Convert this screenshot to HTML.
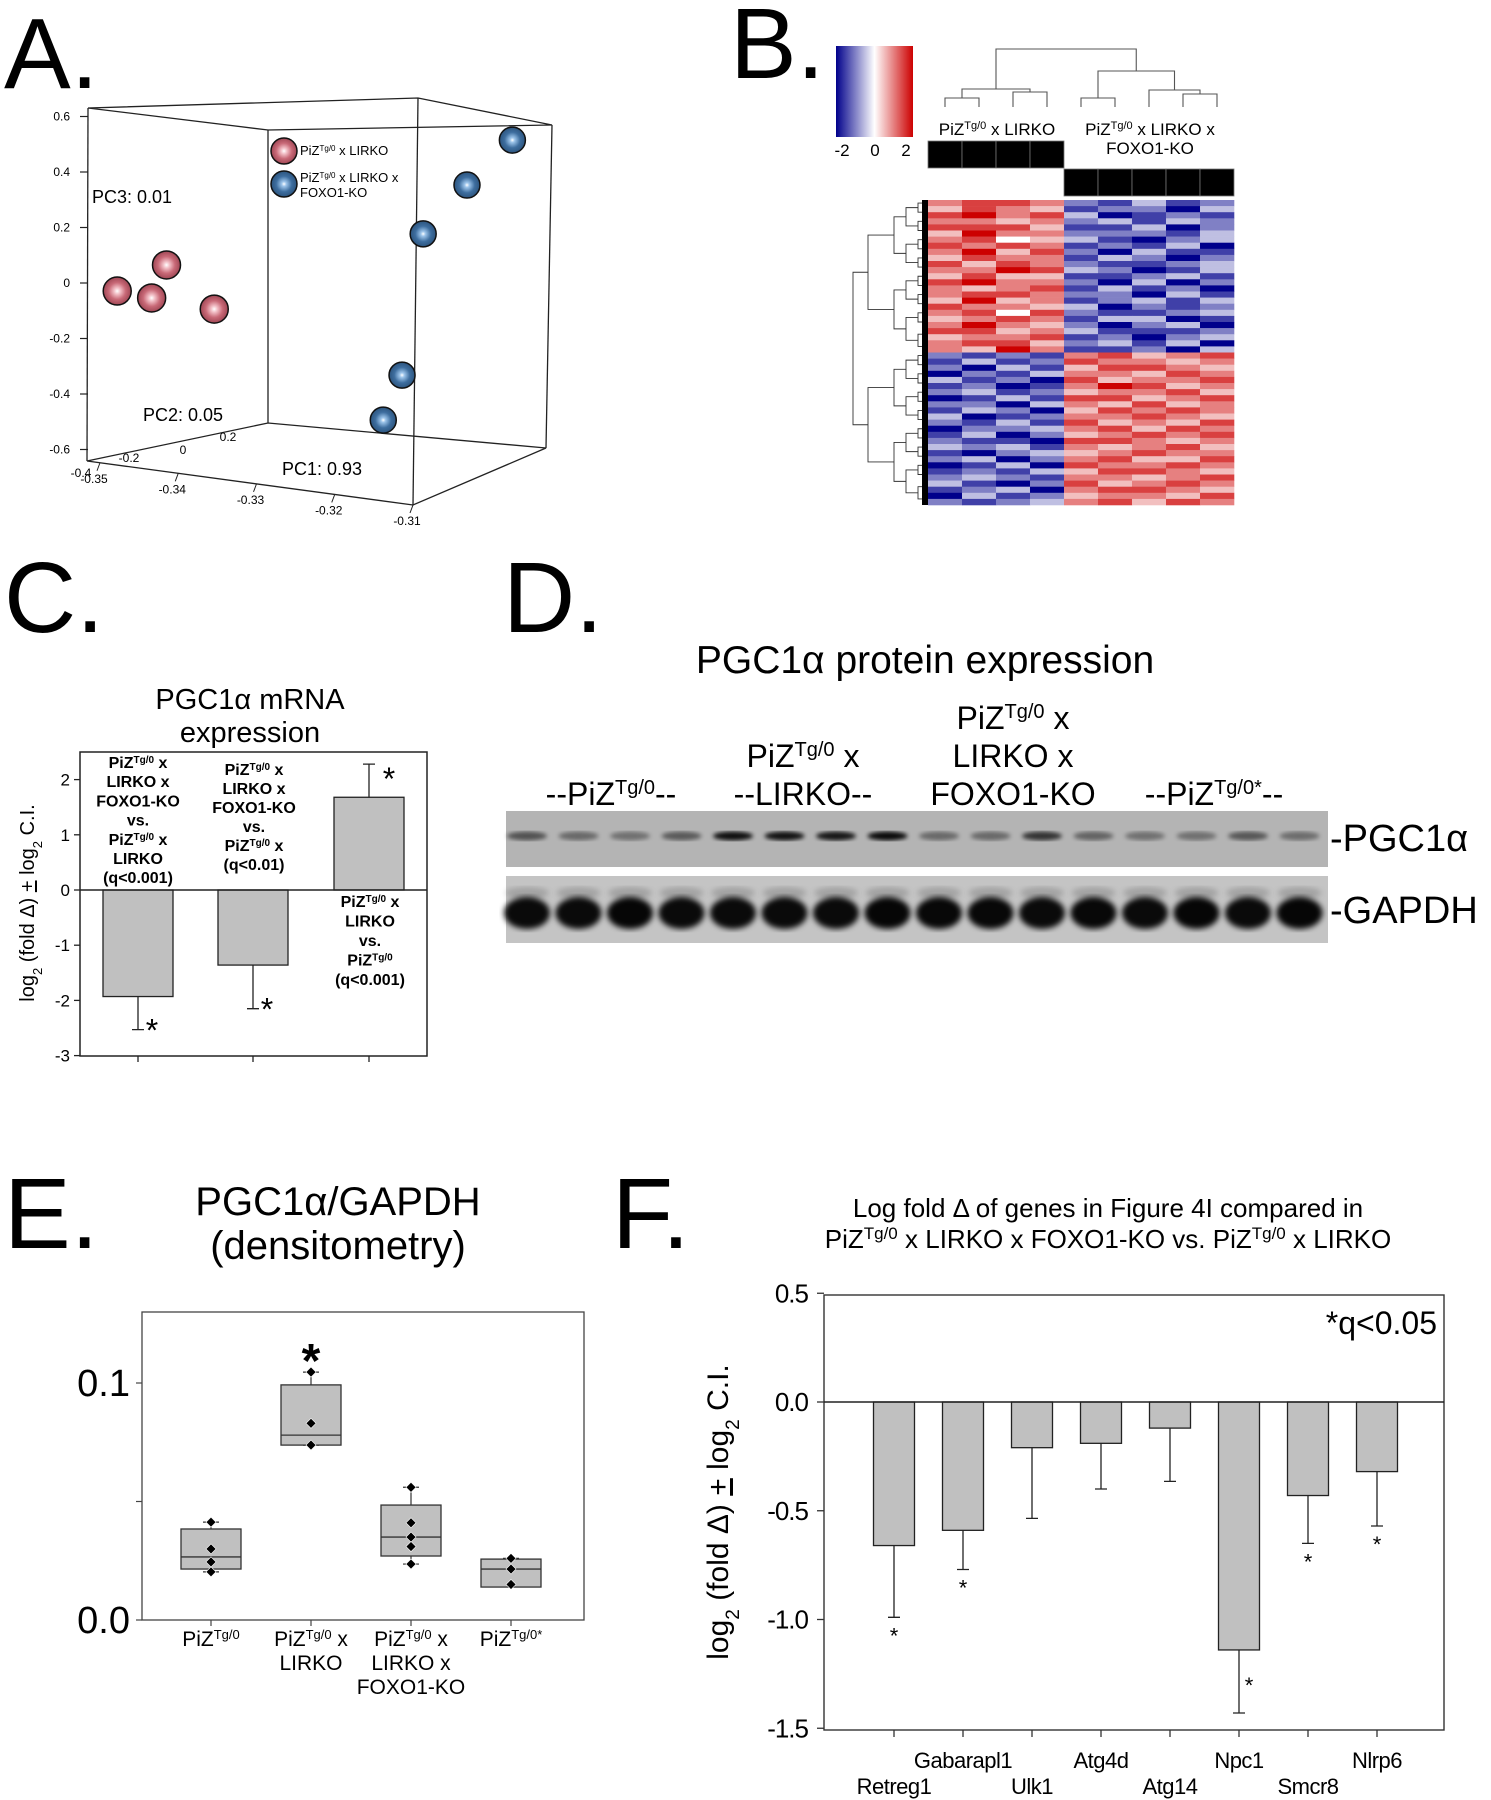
<!DOCTYPE html>
<html><head><meta charset="utf-8"><style>
html,body{margin:0;padding:0;background:#fff}
svg{display:block}
text{font-family:"Liberation Sans",Arial,sans-serif;fill:#000}
</style></head><body>
<svg id="fig" width="1491" height="1800" viewBox="0 0 1491 1800" xmlns="http://www.w3.org/2000/svg">
<defs>
<radialGradient id="gRed" cx="0.5" cy="0.5" r="0.6"><stop offset="0" stop-color="#fff"/><stop offset="0.18" stop-color="#f3c2c9"/><stop offset="0.5" stop-color="#c96a78"/><stop offset="1" stop-color="#8a3442"/></radialGradient>
<radialGradient id="gBlue" cx="0.5" cy="0.5" r="0.6"><stop offset="0" stop-color="#fff"/><stop offset="0.15" stop-color="#9cc4ea"/><stop offset="0.5" stop-color="#3e6e9f"/><stop offset="1" stop-color="#23476d"/></radialGradient>
<linearGradient id="cbar" x1="0" x2="1" y1="0" y2="0"><stop offset="0" stop-color="#00008b"/><stop offset="0.5" stop-color="#ffffff"/><stop offset="1" stop-color="#cc0000"/></linearGradient>
<filter id="blur1"><feGaussianBlur stdDeviation="2.2"/></filter>
<filter id="blur2"><feGaussianBlur stdDeviation="3"/></filter>
</defs>

<!-- Panel letters -->
<text x="4" y="88" font-size="100">A.</text>
<text x="730" y="78" font-size="100">B.</text>
<text x="4" y="632" font-size="100">C.</text>
<text x="503" y="632" font-size="100">D.</text>
<text x="4" y="1248" font-size="100">E.</text>
<text x="612" y="1248" font-size="100">F.</text>

<!-- Panel A -->
<g id="pA" stroke="#222" stroke-width="1.3" fill="none">
<polyline points="88,108 418,98 552,125 268,130 88,108"/>
<line x1="88" y1="108" x2="87" y2="461"/>
<line x1="268" y1="130" x2="268" y2="423"/>
<line x1="418" y1="98" x2="413" y2="505"/>
<line x1="552" y1="125" x2="546" y2="448"/>
<polyline points="87,461 268,423 546,448 413,505 87,461"/>
</g>
<g id="pAtext" font-size="12">
<text x="300" y="155" font-size="13">PiZ<tspan font-size="8" baseline-shift="super">Tg/0</tspan> x LIRKO</text>
<text x="300" y="182" font-size="13">PiZ<tspan font-size="8" baseline-shift="super">Tg/0</tspan> x LIRKO x</text>
<text x="300" y="197" font-size="13">FOXO1-KO</text>
<text x="92" y="203" font-size="18">PC3: 0.01</text>
<text x="143" y="421" font-size="18">PC2: 0.05</text>
<text x="282" y="475" font-size="18">PC1: 0.93</text>
</g>

<!-- Panel B -->
<g id="pB">
<rect x="836" y="46" width="77" height="91" fill="url(#cbar)"/>
<text x="842" y="156" font-size="17" text-anchor="middle">-2</text>
<text x="875" y="156" font-size="17" text-anchor="middle">0</text>
<text x="906" y="156" font-size="17" text-anchor="middle">2</text>
<text x="997" y="135" font-size="17" text-anchor="middle">PiZ<tspan font-size="11" baseline-shift="super">Tg/0</tspan> x LIRKO</text>
<text x="1150" y="135" font-size="17" text-anchor="middle">PiZ<tspan font-size="11" baseline-shift="super">Tg/0</tspan> x LIRKO x</text>
<text x="1150" y="154" font-size="17" text-anchor="middle">FOXO1-KO</text>
</g>

<!-- Panel C -->
<g id="pC">
<text x="250" y="709" font-size="29" text-anchor="middle">PGC1α mRNA</text>
<text x="250" y="742" font-size="29" text-anchor="middle">expression</text>
<text transform="translate(34,903) rotate(-90)" font-size="20" text-anchor="middle">log<tspan font-size="13" baseline-shift="sub">2</tspan> (fold Δ) <tspan text-decoration="underline">+</tspan> log<tspan font-size="13" baseline-shift="sub">2</tspan> C.I.</text>
</g>

<!-- Panel D -->
<g id="pD">
<text x="925" y="673" font-size="39" text-anchor="middle">PGC1α protein expression</text>
<text x="611" y="805" font-size="32" text-anchor="middle">--PiZ<tspan font-size="20" baseline-shift="super">Tg/0</tspan>--</text>
<text x="803" y="767" font-size="32" text-anchor="middle">PiZ<tspan font-size="20" baseline-shift="super">Tg/0</tspan> x</text>
<text x="803" y="805" font-size="32" text-anchor="middle">--LIRKO--</text>
<text x="1013" y="729" font-size="32" text-anchor="middle">PiZ<tspan font-size="20" baseline-shift="super">Tg/0</tspan> x</text>
<text x="1013" y="767" font-size="32" text-anchor="middle">LIRKO x</text>
<text x="1013" y="805" font-size="32" text-anchor="middle">FOXO1-KO</text>
<text x="1214" y="805" font-size="32" text-anchor="middle">--PiZ<tspan font-size="20" baseline-shift="super">Tg/0*</tspan>--</text>
<rect x="506" y="811" width="822" height="56" fill="#b4b4b4"/>
<rect x="506" y="876" width="822" height="67" fill="#c4c4c4"/>
<text x="1330" y="851" font-size="38">-PGC1α</text>
<text x="1330" y="923" font-size="38">-GAPDH</text>
</g>

<!-- Panel E -->
<g id="pE">
<text x="338" y="1215" font-size="40" text-anchor="middle">PGC1α/GAPDH</text>
<text x="338" y="1259" font-size="40" text-anchor="middle">(densitometry)</text>
</g>

<!-- Panel F -->
<g id="pF">
<text x="1108" y="1217" font-size="26" text-anchor="middle">Log fold Δ  of genes in Figure 4I compared in</text>
<text x="1108" y="1248" font-size="26" text-anchor="middle">PiZ<tspan font-size="17" baseline-shift="super">Tg/0</tspan> x LIRKO x FOXO1-KO vs. PiZ<tspan font-size="17" baseline-shift="super">Tg/0</tspan> x LIRKO</text>
<text x="1437" y="1334" font-size="32" text-anchor="end">*q&lt;0.05</text>
<text transform="translate(728,1512) rotate(-90)" font-size="30" text-anchor="middle">log<tspan font-size="19" baseline-shift="sub">2</tspan> (fold Δ) <tspan text-decoration="underline">+</tspan> log<tspan font-size="19" baseline-shift="sub">2</tspan> C.I.</text>
</g>
</svg>

<script>
// ---------- Panel A data ----------
const pcaRedPC1 = [-0.3478, -0.3434, -0.3415, -0.3354];
const pcaRedPC3 = [-0.029, -0.054, 0.065, -0.094];
const pcaBluePC1 = [-0.2973, -0.3031, -0.3087, -0.3114, -0.3138];
const pcaBluePC3 = [0.515, 0.353, 0.177, -0.332, -0.494];
const pcaYTicks = ["0.6","0.4","0.2","0","-0.2","-0.4","-0.6"];
const pcaYTickVals = [0.6,0.4,0.2,0,-0.2,-0.4,-0.6];
const pcaXTicks = ["-0.35","-0.34","-0.33","-0.32","-0.31"];
const pcaXTickVals = [-0.35,-0.34,-0.33,-0.32,-0.31];

// ---------- Panel B data (digit 0..8 => -2..2) ----------
const heatRows = [
"677621312","576512203","786730121","665623132","777511302","586622213","674531023","767612130","685720311","576613202",
"757621123","668732013","575511231","786620302","656713120","677622031","585612313","766530212","674721123","567613301",
"686520230","775631112","566712023","677523130","658611203",
"212167567","131276656","203157765","021366576","312075667","120168756","231256675","013177567","220365756","132057676",
"301266765","213175657","022367576","130256767","211077656","323165675","102356766","230267557","013076676","121357765",
"232166567","310275676","123067765","031256657","212367576"];
const heatGroups = ["lirko","lirko","lirko","lirko","foxo1","foxo1","foxo1","foxo1","foxo1"];

// ---------- Panel C data ----------
const mrnaValues = [-1.93, -1.36, 1.68];
const mrnaErr = [-2.53, -2.15, 2.28];
const mrnaYTicks = [2,1,0,-1,-2,-3];
const mrnaAnnot1 = ["PiZ|x","LIRKO x","FOXO1-KO","vs.","PiZ|x","LIRKO","(q<0.001)"];
const mrnaAnnot2 = ["PiZ|x","LIRKO x","FOXO1-KO","vs.","PiZ|x","(q<0.01)"];
const mrnaAnnot3 = ["PiZ|x","LIRKO","vs.","PiZ|","(q<0.001)"];

// ---------- Panel D data ----------
const pgcBand = [0.55,0.42,0.38,0.5, 0.92,0.9,0.88,0.95, 0.42,0.42,0.72,0.45, 0.38,0.38,0.52,0.4];
const gapdhBand = [0.95,0.95,0.97,0.95, 0.95,0.95,0.95,0.97, 0.96,0.96,0.95,0.96, 0.95,0.97,0.95,0.97];

// ---------- Panel E data ----------
const boxCats = ["PiZ", "PiZxLIRKO", "PiZxLIRKOxFOXO1", "PiZstar"];
const boxQ1 = [0.0215, 0.0738, 0.027, 0.0139];
const boxMed = [0.0266, 0.078, 0.035, 0.0215];
const boxQ3 = [0.0384, 0.0992, 0.0485, 0.0257];
const boxPts = [[0.0413,0.030,0.0245,0.0203],[0.1046,0.083,0.0738],[0.056,0.041,0.035,0.031,0.0236],[0.026,0.0215,0.015]];
const boxYTicks = ["0.0","0.1"];
const boxYTickVals = [0,0.1];

// ---------- Panel F data ----------
const geneNames = ["Retreg1","Gabarapl1","Ulk1","Atg4d","Atg14","Npc1","Smcr8","Nlrp6"];
const geneValues = [-0.66,-0.59,-0.21,-0.19,-0.12,-1.14,-0.43,-0.32];
const geneErrLow = [-0.99,-0.77,-0.535,-0.40,-0.365,-1.43,-0.65,-0.57];
const geneSig = [true,true,false,false,false,true,true,true];
const geneYTicks = ["0.5","0.0","-0.5","-1.0","-1.5"];
const geneYTickVals = [0.5,0,-0.5,-1.0,-1.5];

const NS="http://www.w3.org/2000/svg";
function mk(tag, attrs, parent){const e=document.createElementNS(NS,tag);for(const k in attrs)e.setAttribute(k,attrs[k]);(parent||document.getElementById('fig')).appendChild(e);return e;}
function piz(t, text, sup, rest, supSize){
  t.appendChild(document.createTextNode(text));
  const s=document.createElementNS(NS,'tspan');s.setAttribute('font-size',supSize);s.setAttribute('baseline-shift','super');s.textContent=sup;t.appendChild(s);
  if(rest)t.appendChild(document.createTextNode(rest));
}

// ===== Panel A =====
(function(){
  const g=document.getElementById('pAtext');
  const ax=v=>100+(v+0.35)*7825;
  const ay=v=>283-v*277.5;
  pcaYTickVals.forEach((v,i)=>{
    const l=mk('line',{x1:80,x2:88,y1:ay(v),y2:ay(v),stroke:'#222','stroke-width':1.2},g);
    
    
    const t=mk('text',{x:70,y:ay(v)+4,'text-anchor':'end','font-size':12},g);
    t.textContent=pcaYTicks[i];
    
    
  });
  pcaXTickVals.forEach((v,i)=>{
    const x=ax(v), y=461+(x-87)*0.135;
    const l=mk('line',{x1:x,x2:x-3,y1:y,y2:y+8,stroke:'#222','stroke-width':1},g);
    
    
    const t=mk('text',{x:x-6,y:y+20,'text-anchor':'middle','font-size':12},g);
    t.textContent=pcaXTicks[i];
    
    
  });
  [["-0.4",81,477],["-0.2",129,462],["0",183,454],["0.2",228,441]].forEach(d=>{
    const t=mk('text',{x:d[1],y:d[2],'text-anchor':'middle','font-size':12},g);
    t.textContent=d[0];
    
    
  });
  function dot(x,y,r,grad,name){
    const c=mk('circle',{cx:x,cy:y,r:r,fill:'url(#'+grad+')',stroke:'#111','stroke-width':1.5},g);
    
    
  }
  pcaRedPC1.forEach((v,i)=>dot(ax(v),ay(pcaRedPC3[i]),14,'gRed','pca-point-lirko'));
  pcaBluePC1.forEach((v,i)=>dot(ax(v),ay(pcaBluePC3[i]),13,'gBlue','pca-point-foxo1'));
  dot(284,151,13,'gRed','legend-marker-lirko');
  dot(284,184,13,'gBlue','legend-marker-foxo1');
})();

// ===== Panel B =====
(function(){
  const g=document.getElementById('pB');
  const x0=928, colW=(1234-928)/9, y0=200, rowH=(505-200)/heatRows.length;
  function col(d){const t=(d-4)/4;
    if(t<0){const a=-t;return `rgb(${Math.round(255*(1-a))},${Math.round(255*(1-a))},${Math.round(255-116*a)})`;}
    const a=t;return `rgb(${Math.round(255-51*a)},${Math.round(255*(1-a))},${Math.round(255*(1-a))})`;}
  heatRows.forEach((row,r)=>{
    for(let c=0;c<9;c++){
      const d=+row[c];
      const cell=mk('rect',{x:x0+c*colW,y:y0+r*rowH,width:colW+0.3,height:rowH+0.3,fill:col(d)},g);
      
      
    }
  });
  // group bars
  heatGroups.forEach((grp,c)=>{
    const y=grp==='lirko'?141:169;
    const b=mk('rect',{x:x0+c*colW,y:y,width:colW,height:27,fill:'#000',stroke:'#777','stroke-width':0.8},g);
    
    
  });
  // column dendrogram
  const cx=i=>x0+(i+0.5)*colW;
  const dp=[];
  function U(xa,xb,ya,yb,yt){dp.push(`M${xa},${ya}V${yt}H${xb}V${yb}`);}
  U(cx(0),cx(1),107,107,98); U(cx(2),cx(3),107,107,92);
  U((cx(0)+cx(1))/2,(cx(2)+cx(3))/2,98,92,89);
  U(cx(4),cx(5),107,107,98); U(cx(7),cx(8),107,107,94);
  U(cx(6),(cx(7)+cx(8))/2,107,94,90);
  U((cx(4)+cx(5))/2,(cx(6)+(cx(7)+cx(8))/2)/2,98,90,71);
  const lx=((cx(0)+cx(1))/2+(cx(2)+cx(3))/2)/2;
  const rx=((cx(4)+cx(5))/2+(cx(6)+(cx(7)+cx(8))/2)/2)/2;
  U(lx,rx,89,71,49);
  const cd=mk('path',{d:dp.join(''),fill:'none',stroke:'#555','stroke-width':1.1},g);
  
  
  // row dendrogram
  const rp=[];
  function tree(a,b,depth){
    if(b-a<=1){return {y:y0+(a+0.5)*rowH,x:928};}
    const m=Math.floor((a+b)/2);
    const L=tree(a,m,depth+1),R=tree(m,b,depth+1);
    const x=depth===0?855:(depth===1?868:Math.min(L.x,R.x)-(depth<4?12:5));
    rp.push(`M${L.x},${L.y}H${x}V${R.y}H${R.x}`);
    return {x:x,y:(L.y+R.y)/2};
  }
  const half=heatRows.length/2;
  const t1=tree(0,Math.floor(half),1), t2=tree(Math.floor(half),heatRows.length,1);
  rp.push(`M${t1.x},${t1.y}H853V${t2.y}H${t2.x}`);
  const rd=mk('path',{d:rp.join(''),fill:'none',stroke:'#333','stroke-width':0.9},g);
  
  
  const rb=mk('rect',{x:922,y:200,width:6,height:305,fill:'#000'},g);
  
  
})();

// ===== Panel C =====
(function(){
  const g=document.getElementById('pC');
  const y=v=>890-55.2*v;
  const cxs=[138,253,369];
  const fr=mk('rect',{x:80,y:752,width:347,height:304,fill:'none',stroke:'#222','stroke-width':1.5},g);
  
  
  mrnaYTicks.forEach(v=>{
    const l=mk('line',{x1:74,x2:80,y1:y(v),y2:y(v),stroke:'#222','stroke-width':1.3},g);
    
    
    const t=mk('text',{x:70,y:y(v)+6,'text-anchor':'end','font-size':17},g);
    t.textContent=String(v);
    
    
  });
  mrnaValues.forEach((v,i)=>{
    const top=Math.min(y(0),y(v)),h=Math.abs(y(v)-y(0));
    const b=mk('rect',{x:cxs[i]-35,y:top,width:70,height:h,fill:'#c0c0c0',stroke:'#222','stroke-width':1.3},g);
    
    
    const e=mk('path',{d:`M${cxs[i]},${y(v)}V${y(mrnaErr[i])}M${cxs[i]-6},${y(mrnaErr[i])}H${cxs[i]+6}`,stroke:'#222','stroke-width':1.3,fill:'none'},g);
    
    
    const tk=mk('line',{x1:cxs[i],x2:cxs[i],y1:1056,y2:1062,stroke:'#222','stroke-width':1.3},g);
    
    
    const sx=v<0?cxs[i]+14:cxs[i]+20, sy=v<0?y(mrnaErr[i])+12:y(mrnaErr[i])+26;
    const s=mk('text',{x:sx,y:sy,'font-size':32,'text-anchor':'middle'},g);
    s.textContent='*';
    
    
  });
  const zl=mk('line',{x1:80,x2:427,y1:y(0),y2:y(0),stroke:'#222','stroke-width':1.5},g);
  
  
  function annot(lines,x,y0,dy){
    lines.forEach((s,i)=>{
      const t=mk('text',{x:x,y:y0+i*dy,'font-size':16,'font-weight':'bold','text-anchor':'middle'},g);
      if(s.indexOf('|')>=0){const p=s.split('|');piz(t,'PiZ','Tg/0',p[1]?' '+p[1]:'',10);}
      else t.textContent=s;
      
      
    });
  }
  annot(mrnaAnnot1,138,768,19.2);
  annot(mrnaAnnot2,254,775,19);
  annot(mrnaAnnot3,370,907,19.5);
})();

// ===== Panel D =====
(function(){
  const g=document.getElementById('pD');
  const lx=i=>527+i*51.5;
  pgcBand.forEach((v,i)=>{
    const e=mk('ellipse',{cx:lx(i),cy:836,rx:20,ry:4.5,fill:'#000','fill-opacity':v,filter:'url(#blur1)'},g);
    
    
  });
  gapdhBand.forEach((v,i)=>{
    const e=mk('ellipse',{cx:lx(i),cy:913,rx:23,ry:16,fill:'#000','fill-opacity':v,filter:'url(#blur2)'},g);
    
    
    const f=mk('ellipse',{cx:lx(i),cy:893,rx:22,ry:6,fill:'#000','fill-opacity':0.18*v,filter:'url(#blur2)'},g);
    
    
  });
})();

// ===== Panel E =====
(function(){
  const g=document.getElementById('pE');
  const y=v=>1620-v*2370;
  const xs=[211,311,411,511];
  const fr=mk('rect',{x:142,y:1312,width:442,height:308,fill:'none',stroke:'#444','stroke-width':1.3},g);
  
  
  boxYTickVals.forEach((v,i)=>{
    const t=mk('text',{x:130,y:y(v)+13,'text-anchor':'end','font-size':38},g);
    t.textContent=boxYTicks[i];
    
    
  });
  [0,0.05,0.1].forEach(v=>{
    const l=mk('line',{x1:136,x2:142,y1:y(v),y2:y(v),stroke:'#444','stroke-width':1.2},g);
    
    
  });
  boxCats.forEach((c,i)=>{
    const x=xs[i],pts=boxPts[i],mx=Math.max(...pts),mn=Math.min(...pts);
    const w=mk('path',{d:`M${x},${y(boxQ3[i])}V${y(mx)}M${x},${y(boxQ1[i])}V${y(mn)}M${x-8},${y(mx)}H${x+8}M${x-8},${y(mn)}H${x+8}`,stroke:'#333','stroke-width':1.2,fill:'none'},g);
    
    
    const b=mk('rect',{x:x-30,y:y(boxQ3[i]),width:60,height:y(boxQ1[i])-y(boxQ3[i]),fill:'#c0c0c0',stroke:'#333','stroke-width':1.3},g);
    
    
    const m=mk('line',{x1:x-30,x2:x+30,y1:y(boxMed[i]),y2:y(boxMed[i]),stroke:'#333','stroke-width':1.3},g);
    
    
    pts.forEach(p=>{
      const d=mk('path',{d:`M${x},${y(p)-5}L${x+5},${y(p)}L${x},${y(p)+5}L${x-5},${y(p)}Z`,fill:'#000',stroke:'#fff','stroke-width':0.6},g);
      
      
    });
    const tk=mk('line',{x1:x,x2:x,y1:1620,y2:1626,stroke:'#444','stroke-width':1.2},g);
    
    
  });
  const s=mk('text',{x:311,y:y(Math.max(...boxPts[1]))+5,'font-size':48,'text-anchor':'middle','font-weight':'bold'},g);
  s.textContent='*';
  
  
  const labels=[[["PiZ","Tg/0",""]],[["PiZ","Tg/0"," x"],["LIRKO"]],[["PiZ","Tg/0"," x"],["LIRKO x"],["FOXO1-KO"]],[["PiZ","Tg/0*",""]]];
  labels.forEach((ls,i)=>{
    ls.forEach((l,j)=>{
      const t=mk('text',{x:xs[i],y:1646+j*24,'font-size':21,'text-anchor':'middle'},g);
      if(l.length>1)piz(t,l[0],l[1],l[2],13);else t.textContent=l[0];
      
      
    });
  });
})();

// ===== Panel F =====
(function(){
  const g=document.getElementById('pF');
  const y=v=>1402-v*217.5;
  const x=i=>894+i*69;
  const fr=mk('rect',{x:824,y:1295,width:620,height:435,fill:'none',stroke:'#333','stroke-width':1.4},g);
  
  
  geneYTickVals.forEach((v,i)=>{
    const l=mk('line',{x1:817,x2:824,y1:y(v),y2:y(v),stroke:'#333','stroke-width':1.3},g);
    
    
    const t=mk('text',{x:808,y:y(v)+9,'text-anchor':'end','font-size':26,'letter-spacing':'-1'},g);
    t.textContent=geneYTicks[i];
    
    
  });
  geneValues.forEach((v,i)=>{
    const b=mk('rect',{x:x(i)-20.5,y:y(0),width:41,height:y(v)-y(0),fill:'#c0c0c0',stroke:'#222','stroke-width':1.3},g);
    
    
    const e=mk('path',{d:`M${x(i)},${y(v)}V${y(geneErrLow[i])}M${x(i)-6},${y(geneErrLow[i])}H${x(i)+6}`,stroke:'#222','stroke-width':1.3,fill:'none'},g);
    
    
    if(geneSig[i]){
      const sx=i===5?x(i)+10:x(i);
      const sy=i===5?y(geneErrLow[i])-20:y(geneErrLow[i])+26;
      const s=mk('text',{x:sx,y:sy,'font-size':22,'text-anchor':'middle'},g);
      s.textContent='*';
      
      
    }
    const tk=mk('line',{x1:x(i),x2:x(i),y1:1730,y2:1737,stroke:'#333','stroke-width':1.3},g);
    
    
    const t=mk('text',{x:x(i),y:i%2===0?1794:1768,'font-size':22,'text-anchor':'middle','letter-spacing':'-0.5'},g);
    t.textContent=geneNames[i];
    
    
  });
  const zl=mk('line',{x1:824,x2:1444,y1:y(0),y2:y(0),stroke:'#222','stroke-width':1.5},g);
  
  
})();
</script>
</body></html>
